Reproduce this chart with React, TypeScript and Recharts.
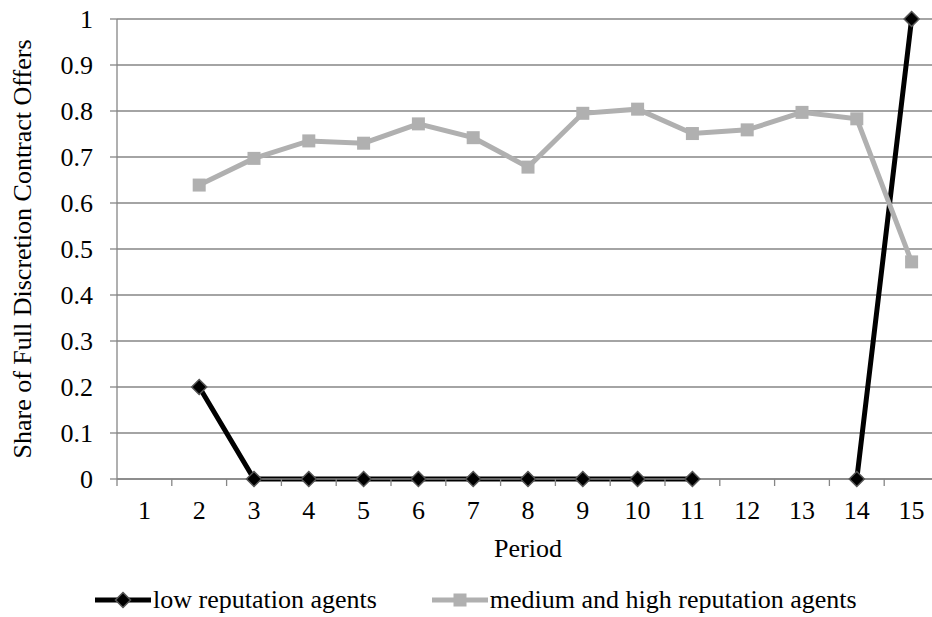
import { CartesianGrid, Label, Legend, Line, LineChart, XAxis, YAxis } from "recharts";

// Share of full discretion contract offers by period, split by agent reputation.
const periods = ["1", "2", "3", "4", "5", "6", "7", "8", "9", "10", "11", "12", "13", "14", "15"];
const lowReputation = [null, 0.2, 0, 0, 0, 0, 0, 0, 0, 0, 0, null, null, 0, 1];
const mediumHighReputation = [
  null, 0.639, 0.697, 0.735, 0.73, 0.772, 0.742, 0.678, 0.795, 0.804, 0.751, 0.759, 0.797, 0.783, 0.472,
];
const yTicks = [0, 0.1, 0.2, 0.3, 0.4, 0.5, 0.6, 0.7, 0.8, 0.9, 1];

const data = periods.map((period, i) => ({
  period,
  low: lowReputation[i],
  mediumHigh: mediumHighReputation[i],
}));

const FONT = '"Liberation Serif", "Times New Roman", serif';
const GRID = "#868686";
const LOW_COLOR = "#000000";
const MED_COLOR = "#B0B0B0";

function DiamondDot({ cx, cy, value }: any) {
  if (value == null || cx == null || cy == null) return null;
  const r = 7.5;
  return (
    <polygon
      points={`${cx},${cy - r} ${cx + r},${cy} ${cx},${cy + r} ${cx - r},${cy}`}
      fill={LOW_COLOR}
      stroke="#555555"
      strokeWidth={1.5}
    />
  );
}

function SquareDot({ cx, cy, value }: any) {
  if (value == null || cx == null || cy == null) return null;
  const h = 6.5;
  return <rect x={cx - h} y={cy - h} width={h * 2} height={h * 2} fill={MED_COLOR} />;
}

// category ticks sit on the band boundaries, labels in the band centres
function PeriodTick(props: any) {
  const { x, y, payload, width, visibleTicksCount } = props;
  const half = payload?.offset || width / (2 * visibleTicksCount);
  return (
    <g>
      <line x1={x - half} x2={x - half} y1={y} y2={y + 7} stroke={GRID} strokeWidth={1.3} />
      <text x={x} y={y + 40} textAnchor="middle" fontSize={26} fontFamily={FONT} fill="#000">
        {payload.value}
      </text>
    </g>
  );
}

function YTitle({ viewBox }: any) {
  const cx = viewBox.x + 22;
  const cy = viewBox.y + viewBox.height / 2;
  return (
    <text
      x={cx}
      y={cy}
      transform={`rotate(-90, ${cx}, ${cy})`}
      textAnchor="middle"
      dominantBaseline="central"
      fontSize={26}
      fontFamily={FONT}
      fill="#000"
    >
      Share of Full Discretion Contract Offers
    </text>
  );
}

function XTitle({ viewBox }: any) {
  return (
    <text
      x={viewBox.x + viewBox.width / 2}
      y={viewBox.y + 78}
      textAnchor="middle"
      fontSize={26}
      fontFamily={FONT}
      fill="#000"
    >
      Period
    </text>
  );
}

function LegendIcon({ dataKey }: { dataKey: string }) {
  const isLow = dataKey === "low";
  const color = isLow ? LOW_COLOR : MED_COLOR;
  return (
    <svg width={56} height={20} style={{ display: "block" }}>
      <line x1={0} x2={56} y1={10} y2={10} stroke={color} strokeWidth={5} strokeLinecap="round" />
      {isLow ? (
        <polygon points="28,2.5 35.5,10 28,17.5 20.5,10" fill={LOW_COLOR} stroke="#555555" strokeWidth={1.5} />
      ) : (
        <rect x={21.5} y={3.5} width={13} height={13} fill={MED_COLOR} />
      )}
    </svg>
  );
}

function ChartLegend({ payload }: any) {
  return (
    <div
      style={{
        display: "flex",
        alignItems: "center",
        height: 34,
        paddingLeft: 95,
        fontFamily: FONT,
        fontSize: 26,
        lineHeight: "30px",
        color: "#000",
        whiteSpace: "nowrap",
      }}
    >
      {(payload ?? []).map((entry: any, i: number) => (
        <div key={entry.dataKey} style={{ display: "flex", alignItems: "center", marginLeft: i === 0 ? 0 : 55 }}>
          <LegendIcon dataKey={entry.dataKey} />
          <span style={{ marginLeft: 2 }}>{entry.value}</span>
        </div>
      ))}
    </div>
  );
}

export default function App() {
  return (
    <div style={{ position: "absolute", left: 0, top: 0, width: 932, height: 617, overflow: "hidden", background: "#fff" }}>
      <LineChart width={939} height={617} data={data} margin={{ top: 19, right: 0, bottom: 0, left: 0 }}>
        <CartesianGrid vertical={false} stroke={GRID} strokeWidth={1.3} />
        <XAxis
          dataKey="period"
          scale="band"
          height={104}
          interval={0}
          tickLine={false}
          tickSize={0}
          tickMargin={0}
          tick={PeriodTick}
          axisLine={{ stroke: GRID, strokeWidth: 1.3 }}
        >
          <Label content={XTitle} />
        </XAxis>
        <YAxis
          width={117}
          domain={[0, 1]}
          ticks={yTicks}
          interval={0}
          tickSize={7}
          tickMargin={17}
          tickFormatter={(v: number) => String(Number(v.toFixed(1)))}
          tick={{ fontSize: 26, fontFamily: FONT, fill: "#000" }}
          tickLine={{ stroke: GRID, strokeWidth: 1.3 }}
          axisLine={{ stroke: GRID, strokeWidth: 1.3 }}
        >
          <Label content={YTitle} />
        </YAxis>
        <Legend verticalAlign="bottom" content={ChartLegend} wrapperStyle={{ left: 0, bottom: 0 }} />
        <Line
          name="low reputation agents"
          dataKey="low"
          type="linear"
          stroke={LOW_COLOR}
          strokeWidth={5}
          dot={(p: any) => <DiamondDot key={`low-${p.index}`} {...p} />}
          activeDot={false}
          isAnimationActive={false}
        />
        <Line
          name="medium and high reputation agents"
          dataKey="mediumHigh"
          type="linear"
          stroke={MED_COLOR}
          strokeWidth={5}
          dot={(p: any) => <SquareDot key={`med-${p.index}`} {...p} />}
          activeDot={false}
          isAnimationActive={false}
        />
      </LineChart>
    </div>
  );
}
